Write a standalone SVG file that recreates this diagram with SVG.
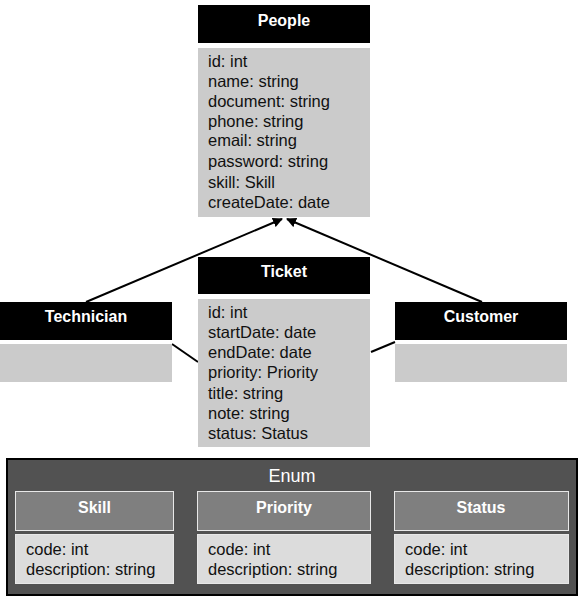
<svg xmlns="http://www.w3.org/2000/svg" width="587" height="603" viewBox="0 0 587 603">
<defs>
<style>
.hdr{fill:#000}
.body{fill:#cbcbcb}
.ht{font-family:"Liberation Sans",Arial,sans-serif;font-weight:bold;font-size:16px;fill:#fff;text-anchor:middle}
.bt{font-family:"Liberation Sans",Arial,sans-serif;font-size:16.5px;fill:#111}
.eh{fill:#7f7f7f;stroke:#e8e8e8;stroke-width:1}
.eb{fill:#dcdcdc;stroke:#e8e8e8;stroke-width:1}
.ln{stroke:#000;stroke-width:2;fill:none}
</style>
<marker id="arr" viewBox="0 0 10 10" refX="9" refY="5" markerWidth="5" markerHeight="5" orient="auto" markerUnits="strokeWidth">
<path d="M0,0 L10,5 L0,10 z" fill="#000"/>
</marker>
</defs>
<rect width="587" height="603" fill="#fff"/>
<g id="connectors">
<line class="ln" x1="86" y1="302" x2="282" y2="219" marker-end="url(#arr)"/>
<line class="ln" x1="482" y1="302" x2="287" y2="219" marker-end="url(#arr)"/>
<line class="ln" x1="172" y1="344" x2="198" y2="362"/>
<line class="ln" x1="371" y1="352" x2="395" y2="342"/>
</g>
<g id="people">
<rect class="hdr" x="198" y="5" width="172" height="38"/>
<text class="ht" x="284" y="26">People</text>
<rect class="body" x="198" y="48" width="172" height="169"/>
<text class="bt" x="208" y="67">id: int</text>
<text class="bt" x="208" y="87">name: string</text>
<text class="bt" x="208" y="107">document: string</text>
<text class="bt" x="208" y="127">phone: string</text>
<text class="bt" x="208" y="146">email: string</text>
<text class="bt" x="208" y="167">password: string</text>
<text class="bt" x="208" y="188">skill: Skill</text>
<text class="bt" x="208" y="208">createDate: date</text>
</g>
<g id="ticket">
<rect class="hdr" x="198" y="257" width="172" height="37"/>
<text class="ht" x="284" y="277">Ticket</text>
<rect class="body" x="198" y="299" width="172" height="148"/>
<text class="bt" x="208" y="318">id: int</text>
<text class="bt" x="208" y="338">startDate: date</text>
<text class="bt" x="208" y="358">endDate: date</text>
<text class="bt" x="208" y="378">priority: Priority</text>
<text class="bt" x="208" y="399">title: string</text>
<text class="bt" x="208" y="419">note: string</text>
<text class="bt" x="208" y="439">status: Status</text>
</g>
<g id="technician">
<rect class="hdr" x="0" y="302" width="172" height="38"/>
<text class="ht" x="86" y="322">Technician</text>
<rect class="body" x="0" y="344" width="172" height="38"/>
</g>
<g id="customer">
<rect class="hdr" x="395" y="302" width="172" height="38"/>
<text class="ht" x="481" y="322">Customer</text>
<rect class="body" x="395" y="344" width="172" height="38"/>
</g>
<g id="enum">
<rect x="7" y="459" width="570" height="136" fill="#525252" stroke="#000" stroke-width="2"/>
<text x="292" y="482" font-family="'Liberation Sans',Arial,sans-serif" font-size="18" fill="#fff" text-anchor="middle">Enum</text>
</g>
<g id="skill">
<rect class="eh" x="15.5" y="491.5" width="158" height="39"/>
<text class="ht" x="94.5" y="513">Skill</text>
<rect class="eb" x="15.5" y="534.5" width="158" height="49"/>
<text class="bt" x="26" y="555">code: int</text>
<text class="bt" x="26" y="575">description: string</text>
</g>
<g id="priority">
<rect class="eh" x="197.5" y="491.5" width="173" height="39"/>
<text class="ht" x="284" y="513">Priority</text>
<rect class="eb" x="197.5" y="534.5" width="173" height="49"/>
<text class="bt" x="208" y="555">code: int</text>
<text class="bt" x="208" y="575">description: string</text>
</g>
<g id="status">
<rect class="eh" x="394.5" y="491.5" width="174" height="39"/>
<text class="ht" x="481" y="513">Status</text>
<rect class="eb" x="394.5" y="534.5" width="174" height="49"/>
<text class="bt" x="405" y="555">code: int</text>
<text class="bt" x="405" y="575">description: string</text>
</g>
</svg>
